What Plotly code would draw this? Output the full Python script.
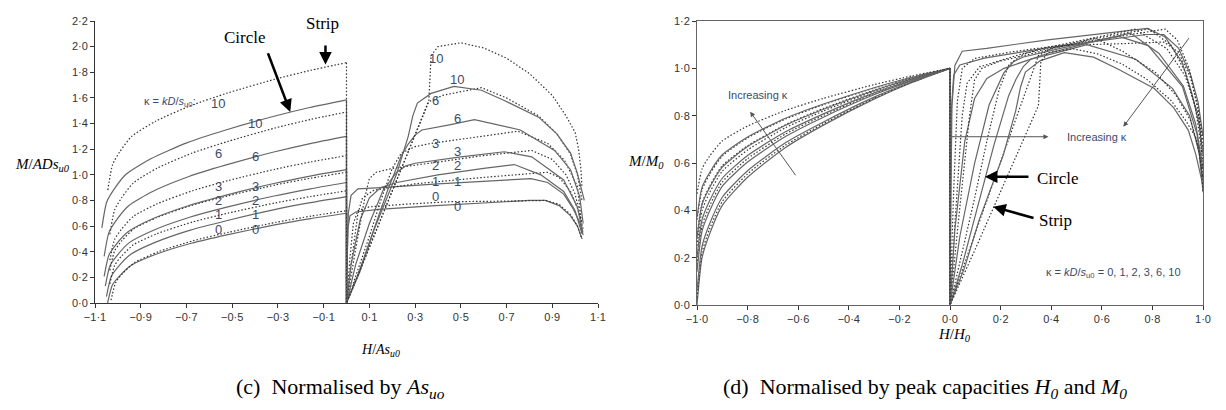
import plotly.graph_objects as go

kappa = [0, 1, 2, 3, 6, 10]

# ---------- panel (c): H<0 branches ----------
circle_neg_H = [
    [-1.045, -1.024, -0.993, -0.941, -0.836, -0.679, -0.523, -0.314, -0.157, 0],
    [-1.05, -1.029, -0.998, -0.945, -0.84, -0.683, -0.525, -0.315, -0.158, 0],
    [-1.055, -1.034, -1.002, -0.95, -0.844, -0.686, -0.528, -0.317, -0.158, 0],
    [-1.06, -1.039, -1.007, -0.954, -0.848, -0.689, -0.53, -0.318, -0.159, 0],
    [-1.06, -1.039, -1.007, -0.954, -0.848, -0.689, -0.53, -0.318, -0.159, 0],
    [-1.07, -1.049, -1.017, -0.963, -0.856, -0.696, -0.535, -0.321, -0.161, 0],
]
circle_neg_M = [
    [0.0, 0.14, 0.21, 0.294, 0.378, 0.466, 0.532, 0.609, 0.658, 0.70],
    [0.05, 0.206, 0.284, 0.378, 0.471, 0.569, 0.642, 0.729, 0.783, 0.83],
    [0.132, 0.293, 0.374, 0.471, 0.568, 0.669, 0.746, 0.835, 0.891, 0.94],
    [0.208, 0.374, 0.458, 0.557, 0.657, 0.761, 0.84, 0.932, 0.99, 1.04],
    [0.364, 0.551, 0.645, 0.757, 0.87, 0.987, 1.075, 1.178, 1.244, 1.30],
    [0.586, 0.786, 0.886, 1.006, 1.125, 1.251, 1.346, 1.455, 1.525, 1.585],
]
strip_neg_H = [
    [-1.03, -1.009, -0.979, -0.927, -0.824, -0.67, -0.515, -0.309, -0.155, 0],
    [-1.035, -1.014, -0.983, -0.932, -0.828, -0.673, -0.518, -0.311, -0.155, 0],
    [-1.035, -1.014, -0.983, -0.932, -0.828, -0.673, -0.518, -0.311, -0.155, 0],
    [-1.035, -1.014, -0.983, -0.932, -0.828, -0.673, -0.518, -0.311, -0.155, 0],
    [-1.035, -1.014, -0.983, -0.932, -0.828, -0.673, -0.518, -0.311, -0.155, 0],
    [-1.044, -1.023, -0.992, -0.94, -0.835, -0.679, -0.522, -0.313, -0.157, 0],
]
strip_neg_M = [
    [0.022, 0.161, 0.231, 0.315, 0.399, 0.486, 0.552, 0.629, 0.678, 0.72],
    [0.149, 0.294, 0.367, 0.454, 0.541, 0.632, 0.701, 0.781, 0.831, 0.875],
    [0.255, 0.408, 0.485, 0.576, 0.668, 0.764, 0.836, 0.921, 0.974, 1.02],
    [0.334, 0.497, 0.578, 0.676, 0.774, 0.876, 0.955, 1.044, 1.101, 1.15],
    [0.536, 0.727, 0.822, 0.937, 1.052, 1.171, 1.261, 1.366, 1.433, 1.49],
    [0.881, 1.08, 1.179, 1.299, 1.418, 1.541, 1.637, 1.746, 1.815, 1.875],
]

# ---------- panel (c): H>0 branches ----------
circle_pos_H = [
    [0, 0.003, 0.006, 0.015, 0.04, 0.14, 0.39, 0.6, 0.8, 0.87, 0.93, 0.98, 1.01, 1.03],
    [0, 0.004, 0.008, 0.02, 0.05, 0.15, 0.4, 0.807, 0.88, 0.95, 0.99, 1.02, 1.035],
    [0, 0.02, 0.06, 0.1, 0.15, 0.22, 0.4, 0.6, 0.734, 0.85, 0.95, 1.0, 1.03],
    [0, 0.04, 0.1, 0.16, 0.22, 0.26, 0.3, 0.5, 0.69, 0.81, 0.95, 1.01, 1.034],
    [0, 0.05, 0.1, 0.18, 0.24, 0.27, 0.3, 0.33, 0.45, 0.56, 0.76, 0.91, 0.98, 1.02, 1.035],
    [0, 0.06, 0.12, 0.22, 0.27, 0.29, 0.31, 0.37, 0.47, 0.59, 0.69, 0.84, 0.92, 0.98, 1.01, 1.04],
]
circle_pos_M = [
    [0, 0.35, 0.58, 0.68, 0.71, 0.73, 0.76, 0.78, 0.80, 0.80, 0.76, 0.68, 0.60, 0.50],
    [0, 0.40, 0.70, 0.84, 0.89, 0.90, 0.93, 0.97, 0.94, 0.85, 0.74, 0.63, 0.53],
    [0, 0.30, 0.65, 0.82, 0.90, 0.94, 1.00, 1.05, 1.08, 1.00, 0.87, 0.72, 0.54],
    [0, 0.30, 0.62, 0.88, 1.02, 1.07, 1.09, 1.14, 1.18, 1.14, 0.96, 0.75, 0.55],
    [0, 0.22, 0.47, 0.88, 1.15, 1.24, 1.31, 1.35, 1.39, 1.43, 1.35, 1.19, 1.04, 0.83, 0.62],
    [0, 0.25, 0.57, 1.01, 1.30, 1.46, 1.56, 1.635, 1.69, 1.66, 1.58, 1.45, 1.32, 1.17, 1.01, 0.80],
]
strip_pos_H = [
    [0, 0.015, 0.03, 0.05, 0.1, 0.25, 0.45, 0.7, 0.87, 0.93, 0.98, 1.01, 1.03],
    [0, 0.02, 0.05, 0.07, 0.12, 0.3, 0.6, 0.88, 0.93, 0.98, 1.01, 1.035],
    [0, 0.04, 0.08, 0.1, 0.13, 0.2, 0.4, 0.6, 0.81, 0.9, 0.96, 1.0, 1.03],
    [0, 0.05, 0.1, 0.15, 0.2, 0.24, 0.3, 0.37, 0.55, 0.75, 0.88, 0.953, 1.01, 1.026],
    [0, 0.1, 0.2, 0.3, 0.36, 0.42, 0.59, 0.7, 0.84, 0.92, 0.98, 1.01, 1.03],
    [0, 0.1, 0.2, 0.3, 0.36, 0.365, 0.37, 0.4, 0.5, 0.6, 0.7, 0.8, 0.9, 0.96, 1.0, 1.015, 1.025, 1.03],
]
strip_pos_M = [
    [0, 0.35, 0.62, 0.72, 0.75, 0.77, 0.79, 0.795, 0.80, 0.77, 0.69, 0.60, 0.50],
    [0, 0.30, 0.70, 0.82, 0.88, 0.93, 0.98, 1.02, 0.98, 0.87, 0.74, 0.58],
    [0, 0.42, 0.82, 0.97, 1.02, 1.05, 1.10, 1.15, 1.19, 1.12, 1.00, 0.85, 0.62],
    [0, 0.26, 0.52, 0.80, 1.05, 1.17, 1.22, 1.245, 1.29, 1.34, 1.245, 1.115, 0.91, 0.65],
    [0, 0.44, 0.88, 1.32, 1.57, 1.62, 1.68, 1.60, 1.46, 1.32, 1.16, 1.00, 0.80],
    [0, 0.43, 0.87, 1.31, 1.58, 1.75, 1.93, 2.00, 2.03, 1.99, 1.91, 1.79, 1.62, 1.46, 1.33, 1.20, 1.05, 0.90],
]

# label positions (panel c)
lab_strip_neg_M = [0.57, 0.69, 0.80, 0.91, 1.17, 1.56]
lab_circle_neg_M = [0.57, 0.69, 0.80, 0.91, 1.14, 1.40]
lab_strip_pos_M = [0.83, 0.946, 1.076, 1.245, 1.58, 1.91]
lab_circle_pos_M = [0.75, 0.946, 1.076, 1.18, 1.44, 1.74]

c_xticks = [-1.1, -0.9, -0.7, -0.5, -0.3, -0.1, 0.1, 0.3, 0.5, 0.7, 0.9, 1.1]
c_yticks = [0.0, 0.2, 0.4, 0.6, 0.8, 1.0, 1.2, 1.4, 1.6, 1.8, 2.0, 2.2]
d_xticks = [-1.0, -0.8, -0.6, -0.4, -0.2, 0.0, 0.2, 0.4, 0.6, 0.8, 1.0]
d_yticks = [0.0, 0.2, 0.4, 0.6, 0.8, 1.0, 1.2]


def fmt(v):
    return f"{v:.1f}".replace("-", "\u2212").replace(".", "\u00b7")


CIRCLE = dict(color="#666666", width=1.2)
STRIP = dict(color="#333333", width=1.2, dash="1.5px,2px")
LABC = "#3b4a6b"

fig = go.Figure()

for i in range(len(kappa)):
    for negH, negM, posH, posM, style in (
        (circle_neg_H[i], circle_neg_M[i], circle_pos_H[i], circle_pos_M[i], CIRCLE),
        (strip_neg_H[i], strip_neg_M[i], strip_pos_H[i], strip_pos_M[i], STRIP),
    ):
        M0 = negM[-1]
        H0n = -negH[0]
        H0p = posH[-1]
        # panel (c)
        fig.add_trace(go.Scatter(x=negH, y=negM, mode="lines", line=dict(**style, shape="spline", smoothing=0.6),
                                 xaxis="x", yaxis="y", showlegend=False, hoverinfo="skip"))
        fig.add_trace(go.Scatter(x=[0] + posH, y=[M0] + posM, mode="lines", line=style,
                                 xaxis="x", yaxis="y", showlegend=False, hoverinfo="skip"))
        # panel (d): normalised by peak capacities H0 and M0
        fig.add_trace(go.Scatter(x=[h / H0n for h in negH], y=[m / M0 for m in negM], mode="lines",
                                 line=dict(**style, shape="spline", smoothing=0.6),
                                 xaxis="x2", yaxis="y2", showlegend=False, hoverinfo="skip"))
        fig.add_trace(go.Scatter(x=[0] + [h / H0p for h in posH], y=[1.0] + [m / M0 for m in posM], mode="lines",
                                 line=style, xaxis="x2", yaxis="y2", showlegend=False, hoverinfo="skip"))

ann = []
# kappa labels on panel (c)
for i, k in enumerate(kappa):
    for x, y in ((-0.56, lab_strip_neg_M[i]), (-0.40, lab_circle_neg_M[i]),
                 (0.39, lab_strip_pos_M[i]), (0.485, lab_circle_pos_M[i])):
        ann.append(dict(x=x, y=y, xref="x", yref="y", text=str(k), showarrow=False,
                        font=dict(family="Liberation Sans", size=13, color=LABC)))
ann.append(dict(x=-0.77, y=1.57, xref="x", yref="y", text="\u03ba = <i>kD</i>/<i>s</i><sub>u0</sub>:",
                showarrow=False, font=dict(family="Liberation Sans", size=11, color=LABC)))

SERIF = "Liberation Serif"
# Circle / Strip arrows on (c)
ann.append(dict(x=-0.443, y=2.07, xref="x", yref="y", text="Circle", showarrow=False,
                font=dict(family=SERIF, size=17, color="black")))
ann.append(dict(x=-0.246, y=1.49, ax=-0.346, ay=1.96, xref="x", yref="y", axref="x", ayref="y", text="",
                showarrow=True, arrowhead=2, arrowsize=1, arrowwidth=2.5, arrowcolor="black"))
ann.append(dict(x=-0.105, y=2.18, xref="x", yref="y", text="Strip", showarrow=False,
                font=dict(family=SERIF, size=17, color="black")))
ann.append(dict(x=-0.092, y=1.86, ax=-0.092, ay=2.02, xref="x", yref="y", axref="x", ayref="y", text="",
                showarrow=True, arrowhead=2, arrowsize=1, arrowwidth=2.5, arrowcolor="black"))

# panel (d) annotations
ann.append(dict(x=-0.759, y=0.887, xref="x2", yref="y2", text="Increasing \u03ba", showarrow=False,
                font=dict(family="Liberation Sans", size=11, color=LABC)))
ann.append(dict(x=-0.79, y=0.817, ax=-0.606, ay=0.542, xref="x2", yref="y2", axref="x2", ayref="y2", text="",
                showarrow=True, arrowhead=2, arrowsize=1, arrowwidth=1, arrowcolor="#555"))
ann.append(dict(x=0.389, y=0.711, ax=0.0, ay=0.711, xref="x2", yref="y2", axref="x2", ayref="y2", text="",
                showarrow=True, arrowhead=2, arrowsize=1, arrowwidth=1, arrowcolor="#555"))
ann.append(dict(x=0.58, y=0.711, xref="x2", yref="y2", text="Increasing \u03ba", showarrow=False,
                font=dict(family="Liberation Sans", size=11, color=LABC)))
ann.append(dict(x=0.685, y=0.753, ax=0.949, ay=1.134, xref="x2", yref="y2", axref="x2", ayref="y2", text="",
                showarrow=True, arrowhead=2, arrowsize=1, arrowwidth=1, arrowcolor="#555"))
ann.append(dict(x=0.428, y=0.535, xref="x2", yref="y2", text="Circle", showarrow=False,
                font=dict(family=SERIF, size=17, color="black")))
ann.append(dict(x=0.138, y=0.542, ax=0.316, ay=0.542, xref="x2", yref="y2", axref="x2", ayref="y2", text="",
                showarrow=True, arrowhead=2, arrowsize=1, arrowwidth=2.5, arrowcolor="black"))
ann.append(dict(x=0.415, y=0.359, xref="x2", yref="y2", text="Strip", showarrow=False,
                font=dict(family=SERIF, size=17, color="black")))
ann.append(dict(x=0.171, y=0.415, ax=0.336, ay=0.366, xref="x2", yref="y2", axref="x2", ayref="y2", text="",
                showarrow=True, arrowhead=2, arrowsize=1, arrowwidth=2.5, arrowcolor="black"))
ann.append(dict(x=0.645, y=0.134, xref="x2", yref="y2",
                text="\u03ba = <i>kD</i>/<i>s</i><sub>u0</sub> = 0, 1, 2, 3, 6, 10", showarrow=False,
                font=dict(family="Liberation Sans", size=11, color=LABC)))


def paper_text(px, py, text, size):
    return dict(x=px / 1226, y=(410 - py) / 410, xref="paper", yref="paper", xanchor="center",
                yanchor="middle", text=text, showarrow=False, font=dict(family=SERIF, size=size, color="black"))


ann.append(paper_text(42, 165, "<i>M</i>/<i>ADs</i><sub><i>u0</i></sub>", 15))
ann.append(paper_text(380, 350, "<i>H</i>/<i>As</i><sub><i>u0</i></sub>", 14))
ann.append(paper_text(646, 162, "<i>M</i>/<i>M</i><sub><i>0</i></sub>", 15))
ann.append(paper_text(955, 335, "<i>H</i>/<i>H</i><sub><i>0</i></sub>", 15))
ann.append(paper_text(340, 388, "(c)  Normalised by <i>As</i><sub><i>uo</i></sub>", 22))
ann.append(paper_text(925, 388, "(d)  Normalised by peak capacities <i>H</i><sub><i>0</i></sub> and "
                                "<i>M</i><sub><i>0</i></sub>", 22))

TICKF = dict(family="Liberation Sans", size=11, color="#333")
axc = dict(showgrid=False, zeroline=False, showline=True, linecolor="#333", linewidth=1,
           ticks="outside", ticklen=4, tickcolor="#333", tickfont=TICKF, automargin=False)
axd = dict(showgrid=False, zeroline=False, showline=True, linecolor="#666", linewidth=1, mirror=True,
           ticks="outside", ticklen=4, tickcolor="#333", tickfont=TICKF, automargin=False)

fig.update_layout(
    width=1226, height=410, autosize=False,
    margin=dict(l=0, r=0, t=0, b=0, pad=0),
    paper_bgcolor="white", plot_bgcolor="white",
    xaxis=dict(axc, domain=[95 / 1226, 598 / 1226], range=[-1.1, 1.1],
               tickvals=c_xticks, ticktext=[fmt(v) for v in c_xticks], anchor="y"),
    yaxis=dict(axc, domain=[(410 - 303) / 410, (410 - 21) / 410], range=[0, 2.2],
               tickvals=c_yticks, ticktext=[fmt(v) for v in c_yticks], anchor="x"),
    xaxis2=dict(axd, domain=[697 / 1226, 1203 / 1226], range=[-1.0, 1.0],
                tickvals=d_xticks, ticktext=[fmt(v) for v in d_xticks], anchor="y2"),
    yaxis2=dict(axd, domain=[(410 - 305) / 410, (410 - 21) / 410], range=[0, 1.2],
                tickvals=d_yticks, ticktext=[fmt(v) for v in d_yticks], anchor="x2"),
    annotations=ann,
)

fig.write_html("out.html", config={"displayModeBar": False},
               post_script="document.body.style.margin='0';document.body.style.overflow='hidden';")
